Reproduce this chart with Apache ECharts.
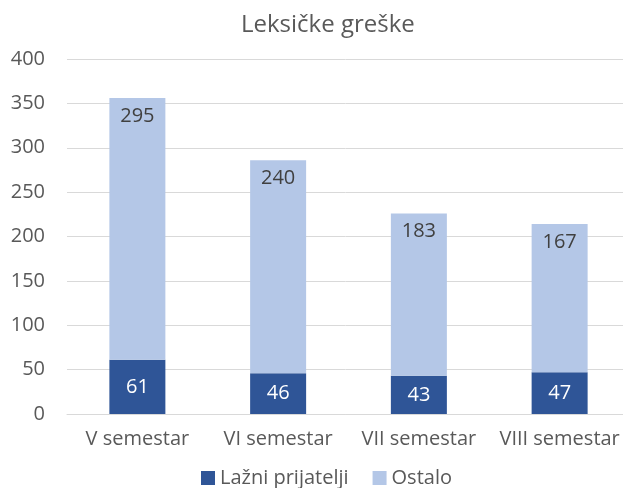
<!DOCTYPE html>
<html>
<head>
<meta charset="utf-8">
<script src="https://cdn.jsdelivr.net/npm/echarts@6/dist/echarts.min.js"></script>
<style>
  html, body { margin: 0; padding: 0; background: #fff; }
  #chart { width: 623px; height: 488px; }
</style>
</head>
<body>
<div id="chart"></div>
<script>
  const categories = ['V semestar', 'VI semestar', 'VII semestar', 'VIII semestar']
  const lazniPrijatelji = [61, 46, 43, 47]
  const ostalo = [295, 240, 183, 167]
  const seriesNames = ['Lažni prijatelji', 'Ostalo']

  const font = 'Open Sans'
  const textColor = '#595959'

  const chart = echarts.init(document.getElementById('chart'))
  chart.setOption({
    animation: false,
    title: {
      text: 'Leksičke greške',
      left: 236,
      top: 8,
      textStyle: { fontFamily: font, fontSize: 24, fontWeight: 'normal', color: textColor }
    },
    legend: {
      data: seriesNames,
      bottom: -5,
      left: 196,
      icon: 'rect',
      itemWidth: 14,
      itemHeight: 14,
      itemGap: 24,
      itemStyle: { borderWidth: 0 },
      textStyle: { fontFamily: font, fontSize: 20, color: textColor }
    },
    grid: { left: 67, top: 59, width: 563, height: 355, outerBoundsMode: 'none' },
    xAxis: {
      type: 'category',
      data: categories,
      axisLine: { lineStyle: { color: '#d9d9d9' } },
      axisTick: { show: false },
      axisLabel: { interval: 0, hideOverlap: false, fontFamily: font, fontSize: 20, color: textColor, margin: 15 }
    },
    yAxis: {
      type: 'value',
      min: 0,
      max: 400,
      interval: 50,
      axisLine: { show: false },
      axisTick: { show: false },
      splitLine: { lineStyle: { color: '#d9d9d9' } },
      axisLabel: { fontFamily: font, fontSize: 20, color: textColor, margin: 22 }
    },
    series: [
      {
        name: seriesNames[0],
        type: 'bar',
        stack: 'total',
        barWidth: 56,
        data: lazniPrijatelji,
        itemStyle: { color: '#2F5597' },
        label: { show: true, position: 'inside', fontFamily: font, fontSize: 20, color: '#fff' }
      },
      {
        name: seriesNames[1],
        type: 'bar',
        stack: 'total',
        barWidth: 56,
        data: ostalo,
        itemStyle: { color: '#B4C7E7' },
        label: { show: true, position: 'insideTop', distance: 8, fontFamily: font, fontSize: 20, color: '#404040' }
      }
    ]
  })
</script>
</body>
</html>
